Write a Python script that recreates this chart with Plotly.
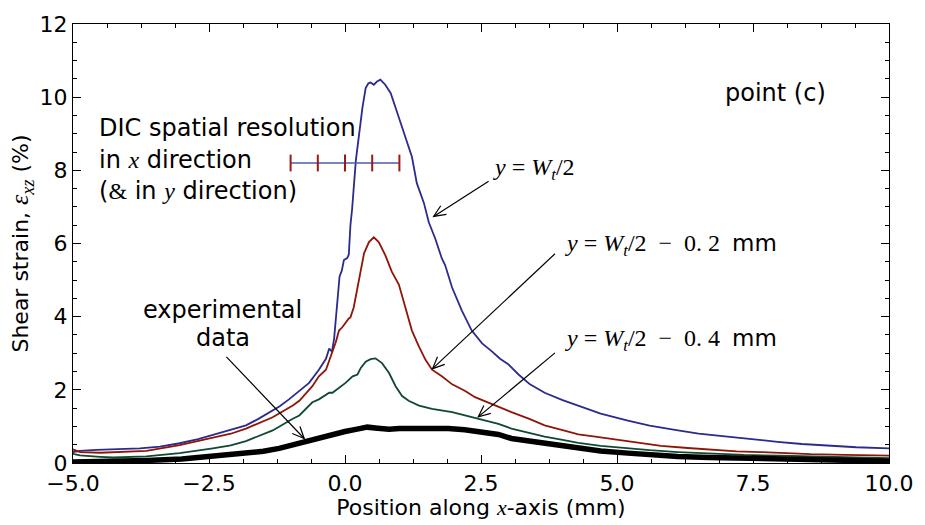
import math
import plotly.graph_objects as go

# ---------------- data ----------------
blue_x = [-5.0, -4.87, -4.57, -4.2, -3.77, -3.4, -3.04, -2.7, -2.31, -2.0, -1.82, -1.6, -1.39, -1.2,
          -1.03, -0.85, -0.66, -0.48, -0.35, -0.29, -0.24, -0.2, -0.15, -0.1, -0.06, -0.02, 0.04, 0.07,
          0.1, 0.13, 0.2, 0.24, 0.32, 0.38, 0.43, 0.47, 0.53, 0.59, 0.65, 0.74, 0.84, 0.93, 1.05, 1.14,
          1.23, 1.32, 1.45, 1.54, 1.66, 1.78, 1.84, 1.97, 2.15, 2.33, 2.52, 2.7, 2.85, 3.0, 3.19, 3.4,
          3.67, 4.0, 4.29, 4.7, 5.2, 5.6, 6.12, 6.5, 7.03, 7.5, 7.95, 8.4, 8.86, 9.4, 10.0]
blue_y = [0.3, 0.33, 0.36, 0.38, 0.4, 0.45, 0.54, 0.65, 0.81, 0.95, 1.03, 1.2, 1.39, 1.55,
          1.74, 1.95, 2.19, 2.55, 2.85, 3.13, 3.04, 3.4, 4.3, 5.1, 5.25, 5.55, 5.6, 5.7,
          6.5, 6.93, 8.28, 8.81, 9.71, 10.25, 10.38, 10.4, 10.34, 10.43, 10.48, 10.34, 10.11, 9.71, 9.17, 8.81,
          8.37, 7.65, 7.11, 6.58, 6.13, 5.59, 5.41, 4.79, 4.16, 3.62, 3.27, 3.05, 2.85, 2.7, 2.42, 2.15,
          1.92, 1.72, 1.57, 1.35, 1.16, 1.02, 0.89, 0.8, 0.72, 0.64, 0.58, 0.52, 0.47, 0.43, 0.4]

red_x = [-5.0, -4.87, -4.5, -4.26, -3.65, -3.04, -2.43, -2.1, -1.82, -1.33, -0.96, -0.84, -0.6, -0.48,
         -0.35, -0.23, -0.17, -0.11, -0.05, 0.07, 0.1, 0.16, 0.23, 0.29, 0.35, 0.44, 0.53, 0.62, 0.74,
         0.86, 0.99, 1.11, 1.23, 1.36, 1.48, 1.6, 1.78, 1.97, 2.21, 2.39, 2.64, 2.82, 3.06, 3.4, 3.67,
         4.0, 4.29, 4.6, 5.02, 5.4, 5.81, 6.3, 6.73, 7.2, 7.64, 8.1, 8.56, 9.2, 10.0]
red_y = [0.37, 0.3, 0.28, 0.29, 0.33, 0.49, 0.69, 0.8, 0.94, 1.25, 1.57, 1.7, 2.1, 2.37,
         2.55, 3.04, 3.3, 3.62, 3.71, 3.95, 3.98, 4.25, 4.79, 5.32, 5.73, 6.04, 6.17, 6.04, 5.68,
         5.23, 4.88, 4.25, 3.62, 3.18, 2.82, 2.55, 2.37, 2.15, 1.97, 1.8, 1.65, 1.52, 1.39, 1.2, 1.03,
         0.9, 0.78, 0.72, 0.63, 0.55, 0.47, 0.41, 0.36, 0.32, 0.3, 0.27, 0.24, 0.22, 0.2]

green_x = [-5.0, -4.87, -4.5, -4.26, -3.65, -3.04, -2.43, -2.1, -1.82, -1.33, -0.96, -0.84, -0.6, -0.48,
           -0.29, -0.23, 0.01, 0.14, 0.23, 0.29, 0.38, 0.47, 0.56, 0.68, 0.81, 0.93, 1.05, 1.17, 1.36,
           1.6, 1.97, 2.33, 2.45, 2.82, 3.06, 3.4, 3.67, 4.0, 4.29, 4.7, 5.2, 5.6, 6.12, 6.7, 7.34,
           8.0, 8.56, 9.3, 10.0]
green_y = [0.25, 0.21, 0.17, 0.15, 0.18, 0.27, 0.4, 0.48, 0.6, 0.89, 1.21, 1.3, 1.66, 1.74,
           1.92, 1.92, 2.19, 2.37, 2.42, 2.6, 2.77, 2.84, 2.86, 2.73, 2.46, 2.1, 1.83, 1.7, 1.57,
           1.48, 1.39, 1.25, 1.21, 1.07, 0.94, 0.82, 0.72, 0.63, 0.55, 0.47, 0.4, 0.35, 0.3, 0.26, 0.22,
           0.2, 0.18, 0.15, 0.13]

exp_x = [-5.0, -4.5, -4.0, -3.65, -3.0, -2.43, -2.0, -1.5, -1.21, -1.0, -0.78, -0.5, -0.23, 0.0, 0.2,
         0.41, 0.6, 0.81, 1.0, 1.3, 1.6, 1.9, 2.2, 2.52, 2.82, 3.06, 3.4, 3.67, 4.0, 4.29, 4.7, 5.2,
         5.6, 6.12, 6.7, 7.34, 8.0, 8.56, 9.3, 10.0]
exp_y = [0.03, 0.04, 0.06, 0.07, 0.11, 0.18, 0.24, 0.32, 0.4, 0.48, 0.6, 0.7, 0.8, 0.86, 0.92,
         0.98, 0.95, 0.92, 0.94, 0.95, 0.95, 0.94, 0.91, 0.86, 0.78, 0.67, 0.6, 0.54, 0.46, 0.4, 0.33, 0.27,
         0.22, 0.18, 0.15, 0.13, 0.12, 0.11, 0.08, 0.05]

res_x = [-1.0, -0.5, 0.0, 0.5, 1.0]
res_y = [8.2, 8.2, 8.2, 8.2, 8.2]

x_ticks = [-5.0, -2.5, 0.0, 2.5, 5.0, 7.5, 10.0]
y_ticks = [0, 2, 4, 6, 8, 10, 12]

# ---------------- layout constants ----------------
W, H = 925, 525
ML, MR, MT, MB = 73, 33, 18, 60
XR = (-5, 10)
YR = (0, 12)
SX = (W - ML - MR) / (XR[1] - XR[0])
SY = (H - MT - MB) / (YR[1] - YR[0])

BLUE = "#2c2a8c"
RED = "#8e1606"
GREEN = "#0e4a2e"
SANS = "DejaVu Sans"
SERIF = "Liberation Serif"

fig = go.Figure()
fig.add_trace(go.Scatter(x=blue_x, y=blue_y, mode="lines", line=dict(color=BLUE, width=1.8), showlegend=False))
fig.add_trace(go.Scatter(x=red_x, y=red_y, mode="lines", line=dict(color=RED, width=1.8), showlegend=False))
fig.add_trace(go.Scatter(x=green_x, y=green_y, mode="lines", line=dict(color=GREEN, width=1.8), showlegend=False))
fig.add_trace(go.Scatter(x=exp_x, y=exp_y, mode="lines", line=dict(color="black", width=5.5), showlegend=False))
# resolution bar
fig.add_trace(go.Scatter(x=res_x, y=res_y, mode="lines+markers",
                         line=dict(color="#4a5ea8", width=1.5),
                         marker=dict(symbol="line-ns", size=12, line=dict(color="#9a1a14", width=2)),
                         showlegend=False))

# ---------------- arrows (open chevron, like matplotlib '->') ----------------
def add_arrow(x0, y0, x1, y1):
    fig.add_shape(type="line", x0=x0, y0=y0, x1=x1, y1=y1, line=dict(color="black", width=1.2))
    dx = (x1 - x0) * SX
    dy = -(y1 - y0) * SY
    L = math.hypot(dx, dy)
    ux, uy = dx / L, dy / L
    hl = 13
    ang = math.radians(24)
    pts = []
    for s in (1, -1):
        c, sn = math.cos(s * ang), math.sin(s * ang)
        rx = ux * c - uy * sn
        ry = ux * sn + uy * c
        px = x1 - hl * rx / SX
        py = y1 + hl * ry / SY
        pts.append((px, py))
    path = f"M {pts[0][0]},{pts[0][1]} L {x1},{y1} L {pts[1][0]},{pts[1][1]}"
    fig.add_shape(type="path", path=path, line=dict(color="black", width=1.2))

add_arrow(2.64, 7.70, 1.63, 6.74)
add_arrow(3.86, 5.72, 1.61, 2.58)
add_arrow(3.86, 3.01, 2.45, 1.26)
add_arrow(-2.18, 2.90, -0.75, 0.67)

# ---------------- texts ----------------
def txt(x, y, s, anchor="left", size=24, family=SANS):
    fig.add_annotation(x=x, y=y, text=s, showarrow=False, xanchor=anchor, yanchor="middle",
                       font=dict(family=family, size=size, color="black"))

mathfont = f"font-family:{SERIF}"
txt(-4.56, 9.15, "DIC spatial resolution")
txt(-4.56, 8.27, f"in <span style='{mathfont}'><i>x</i></span> direction")
txt(-4.56, 7.44, f"(<span style='{mathfont}'>&amp;</span> in <span style='{mathfont}'><i>y</i></span> direction)")
txt(7.91, 10.12, "point (c)", anchor="center")
txt(-2.25, 4.19, "experimental", anchor="center")
txt(-2.25, 3.41, "data", anchor="center")

wt = "<i>y</i> = <i>W</i><sub><i>t</i></sub>/2"
mm = f"<span style='font-family:{SANS};font-size:23px'>mm</span>"
txt(2.69, 8.05, wt, size=24, family=SERIF)
txt(4.01, 5.96, wt + f"  −  0. 2  " + mm, size=24, family=SERIF)
txt(4.01, 3.36, wt + f"  −  0. 4  " + mm, size=24, family=SERIF)

axis_common = dict(showline=True, linecolor="black", linewidth=1.2, mirror="allticks",
                   ticks="inside", ticklen=8, tickwidth=1, tickcolor="black",
                   showgrid=False, zeroline=False,
                   tickfont=dict(family=SANS, size=22, color="black"))

fig.update_xaxes(range=list(XR), tickvals=x_ticks, ticktext=[f"{v:.1f}".replace("-", "−") for v in x_ticks],
                 minor=dict(ticks="inside", ticklen=4, dtick=0.625, tick0=-5, tickcolor="black"),
                 title=dict(text="Position along <i style='font-family:Liberation Serif'>x</i>-axis (mm)",
                            font=dict(family=SANS, size=22, color="black"), standoff=2),
                 **axis_common)
fig.update_yaxes(range=list(YR), tickvals=y_ticks,
                 minor=dict(ticks="inside", ticklen=4, dtick=0.5, tickcolor="black"),
                 title=dict(text="Shear strain, <i style='font-family:Liberation Serif;font-size:26px'>ε<sub>xz</sub></i> (%)",
                            font=dict(family=SANS, size=22, color="black"), standoff=4),
                 **axis_common)

fig.update_layout(width=W, height=H, margin=dict(l=ML, r=MR, t=MT, b=MB),
                  plot_bgcolor="white", paper_bgcolor="white", showlegend=False)

fig.write_html("out.html")
